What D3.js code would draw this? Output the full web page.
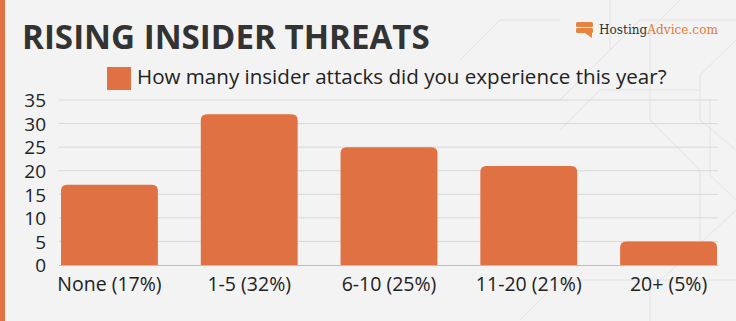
<!DOCTYPE html>
<html><head><meta charset="utf-8">
<script src="https://cdn.jsdelivr.net/npm/d3@7"></script>
<style>html,body{margin:0;padding:0;background:#f3f3f3;}svg{display:block;}</style>
</head><body>
<svg id="chart" width="736" height="321"></svg>
<script>
const categories = ["None (17%)", "1-5 (32%)", "6-10 (25%)", "11-20 (21%)", "20+ (5%)"];
const values = [17, 32, 25, 21, 5];
const yTicks = [0, 5, 10, 15, 20, 25, 30, 35];
const title = "RISING INSIDER THREATS";
const legendLabel = "How many insider attacks did you experience this year?";

const W = 736, H = 321;
const orange = "#e07142";
const svg = d3.select("#chart");
svg.append("rect").attr("width", W).attr("height", H).attr("fill", "#f3f3f3");

// faint circuit decoration
const deco = svg.append("g").attr("fill", "none").attr("stroke", "#e2e2e2").attr("stroke-width", 1);
const paths = [
  "M1080,0 L1110,28 L1270,28", "M600,60 L640,20 L736,20", "M680,0 L650,30 L650,120 L700,170 L700,260",
  "M736,40 L700,75 L700,120 L736,150", "M560,130 L600,90 L700,90", "M610,0 L610,50 L560,100 L440,100",
  "M736,200 L710,175 L710,100", "M520,320 L560,280 L736,280", "M460,60 L500,20 L560,20",
  "M650,321 L650,290 L736,210"
];
paths.forEach(p => deco.append("path").attr("d", p));

// left stripe
svg.append("rect").attr("x", 0).attr("y", 0).attr("width", 5).attr("height", H).attr("fill", orange);

function fitText(sel, target) {
  const w = sel.node().getComputedTextLength();
  const fs = parseFloat(sel.attr("font-size"));
  sel.attr("font-size", fs * target / w);
}

// title
const t = svg.append("text").attr("x", 22).attr("y", 49)
  .attr("font-family", "'Open Sans', sans-serif").attr("font-weight", 700)
  .attr("font-size", 32).attr("fill", "#333333").text(title);
fitText(t, 408);

// legend
svg.append("rect").attr("x", 107).attr("y", 67).attr("width", 24).attr("height", 23).attr("fill", orange);
const lg = svg.append("text").attr("x", 137).attr("y", 84)
  .attr("font-family", "'Open Sans', sans-serif").attr("font-size", 20)
  .attr("fill", "#222").text(legendLabel);
fitText(lg, 530);

// logo
const logo = svg.append("g");
logo.append("rect").attr("x", 576).attr("y", 22).attr("width", 17).attr("height", 5).attr("rx", 1.5).attr("fill", "#e8823f");
logo.append("rect").attr("x", 576).attr("y", 28).attr("width", 17).attr("height", 5).attr("rx", 1.5).attr("fill", "#e8823f");
logo.append("path").attr("d", "M585,33 L592,33 L592,38 Z").attr("fill", "#e8823f");
const lt = logo.append("text").attr("x", 599).attr("y", 33.5)
  .attr("font-family", "'DejaVu Serif', serif").attr("font-size", 13);
lt.append("tspan").attr("fill", "#333").text("Hosting");
lt.append("tspan").attr("fill", "#e07a35").text("Advice.com");
fitText(lt, 119);

// scales
const x = d3.scaleBand().domain(categories).range([61, 717]).paddingInner(0.307).paddingOuter(0);
const y = d3.scaleLinear().domain([0, 35]).range([265, 100]);

// gridlines
svg.append("g").selectAll("line").data(yTicks.filter(d => d > 0)).join("line")
  .attr("x1", 59).attr("x2", 718)
  .attr("y1", d => y(d)).attr("y2", d => y(d))
  .attr("stroke", "#d8d8d8").attr("stroke-width", 1);

// y axis labels
const yAxis = d3.axisLeft(y).tickValues(yTicks).tickSize(0).tickPadding(0);
const ya = svg.append("g").attr("transform", "translate(46,0)").call(yAxis);
ya.select(".domain").remove();
ya.selectAll("text").attr("font-family", "'Open Sans', sans-serif").attr("font-size", 19)
  .attr("fill", "#222").attr("dy", "0.36em");

// bars with rounded top
const r = 6;
svg.append("g").selectAll("path").data(values).join("path")
  .attr("fill", orange)
  .attr("d", (d, i) => {
    const x0 = x(categories[i]), w = x.bandwidth(), y0 = y(d), y1 = y(0);
    return `M${x0},${y1} L${x0},${y0 + r} Q${x0},${y0} ${x0 + r},${y0} L${x0 + w - r},${y0} Q${x0 + w},${y0} ${x0 + w},${y0 + r} L${x0 + w},${y1} Z`;
  });

// baseline
svg.append("line").attr("x1", 59).attr("x2", 718).attr("y1", y(0) + 0.5).attr("y2", y(0) + 0.5)
  .attr("stroke", "#bdbdbd").attr("stroke-width", 1);

// x axis labels
const xAxis = d3.axisBottom(x).tickSize(0).tickPadding(0);
const xa = svg.append("g").attr("transform", `translate(0,${y(0)})`).call(xAxis);
xa.select(".domain").remove();
xa.selectAll("text").attr("font-family", "'Open Sans', sans-serif").attr("font-size", 19.5)
  .attr("fill", "#222").attr("dy", null).attr("y", 26);
</script>
</body></html>
